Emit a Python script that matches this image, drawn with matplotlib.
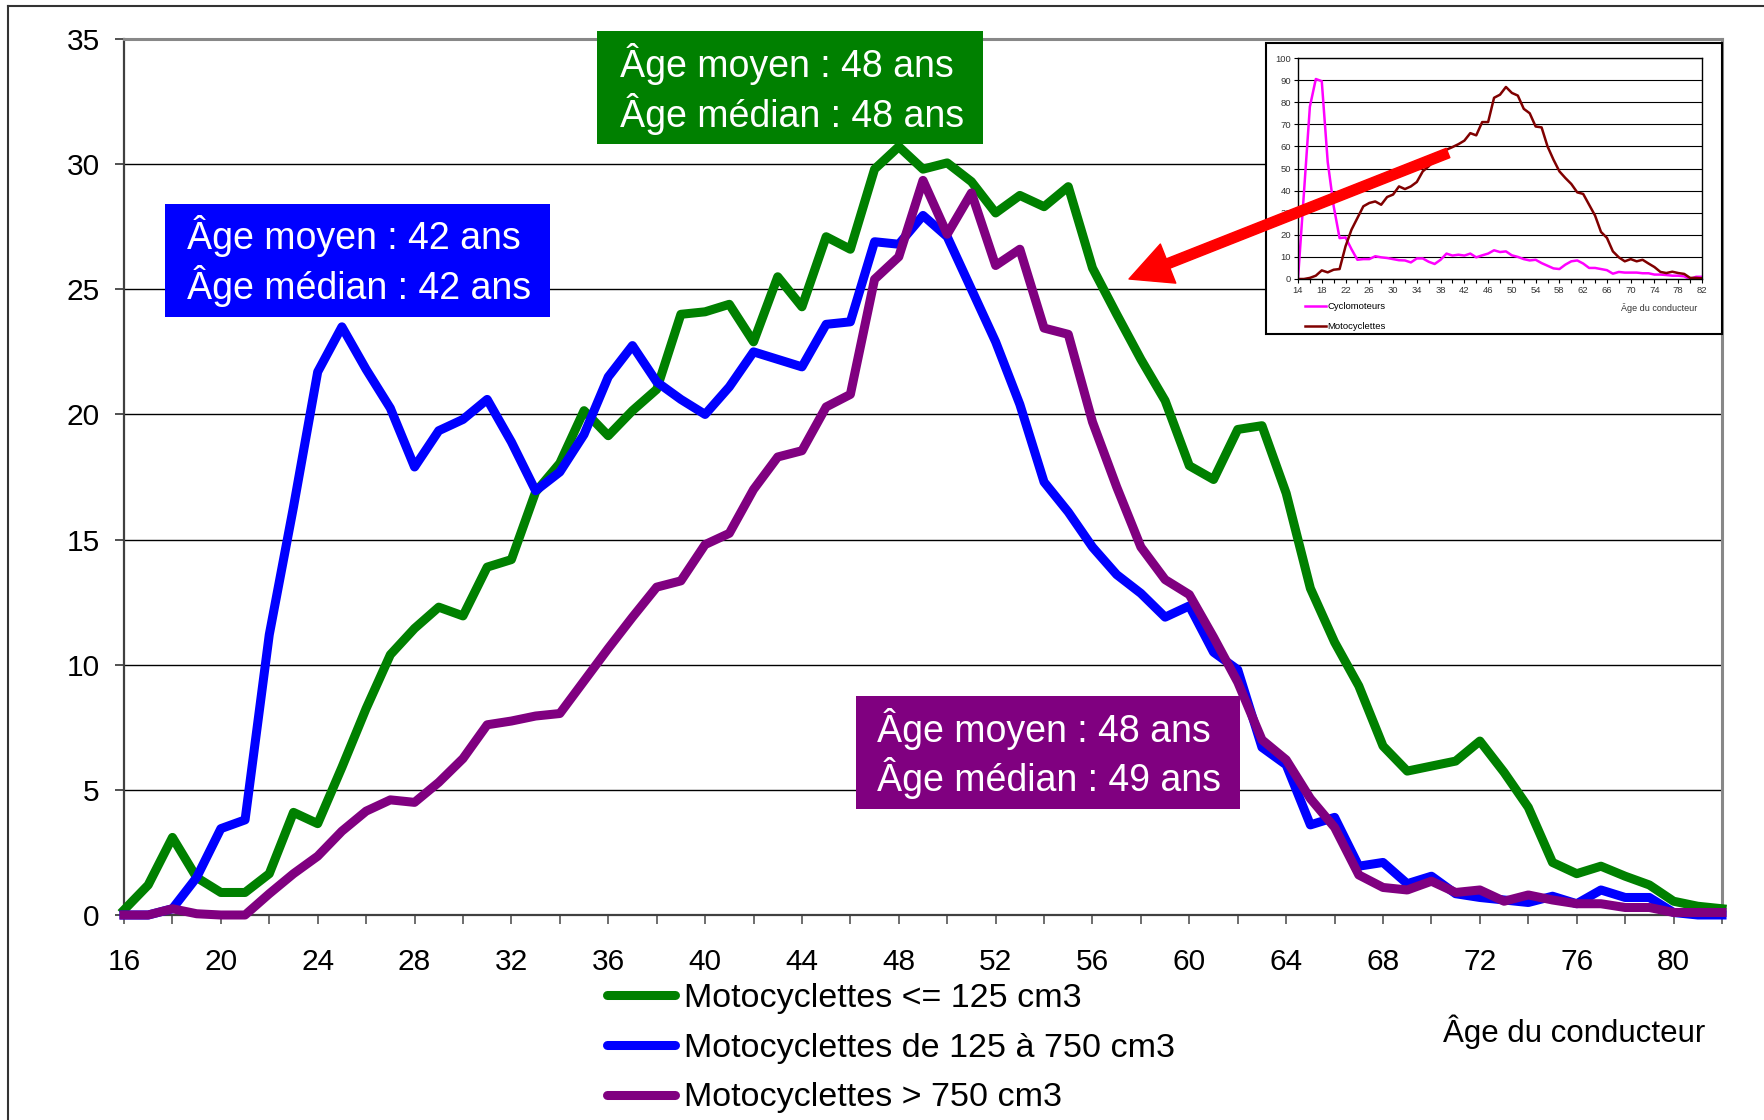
import matplotlib
matplotlib.use("Agg")
import matplotlib.pyplot as plt
from matplotlib.patches import Rectangle, FancyArrowPatch
from matplotlib.lines import Line2D

plt.rcParams['font.family'] = ['Liberation Sans', 'DejaVu Sans']

# main chart: share of drivers by age (16..82)
ages = list(range(16, 83))
moto_125 = [0.2, 1.2, 3.1, 1.5, 0.9, 0.9, 1.65, 4.1, 3.65, 5.9,
            8.25, 10.4, 11.45, 12.3, 11.95, 13.9, 14.2, 16.9, 18.05, 20.15,
            19.15, 20.15, 21.0, 24.0, 24.1, 24.4, 22.9, 25.5, 24.3, 27.1,
            26.6, 29.8, 30.7, 29.8, 30.05, 29.3, 28.05, 28.75, 28.3, 29.1,
            25.85, 24.0, 22.2, 20.55, 17.95, 17.4, 19.4, 19.55, 16.85, 13.05,
            10.9, 9.15, 6.75, 5.75, 5.95, 6.15, 6.95, 5.7, 4.3, 2.1,
            1.65, 1.95, 1.55, 1.2, 0.55, 0.35, 0.25]
moto_125_750 = [0.0, 0.0, 0.25, 1.5, 3.45, 3.8, 11.2, 16.3, 21.7, 23.5,
                21.8, 20.25, 17.9, 19.35, 19.8, 20.6, 18.9, 16.95, 17.7, 19.2,
                21.5, 22.75, 21.3, 20.6, 20.0, 21.1, 22.5, 22.2, 21.9, 23.6,
                23.7, 26.9, 26.8, 27.95, 27.1, 25.0, 22.9, 20.4, 17.3, 16.1,
                14.7, 13.6, 12.85, 11.9, 12.35, 10.5, 9.8, 6.7, 6.0, 3.6,
                3.9, 1.95, 2.1, 1.25, 1.55, 0.85, 0.7, 0.6, 0.5, 0.75,
                0.45, 1.0, 0.7, 0.7, 0.1, 0.0, 0.0]
moto_750 = [0.0, 0.0, 0.25, 0.05, 0.0, 0.0, 0.85, 1.65, 2.35, 3.35,
            4.15, 4.6, 4.5, 5.3, 6.25, 7.6, 7.75, 7.95, 8.05, 9.35,
            10.65, 11.9, 13.1, 13.35, 14.8, 15.25, 17.0, 18.3, 18.55, 20.3,
            20.8, 25.4, 26.3, 29.35, 27.2, 28.85, 25.95, 26.6, 23.45, 23.2,
            19.7, 17.1, 14.7, 13.4, 12.8, 11.1, 9.3, 7.0, 6.2, 4.65,
            3.5, 1.6, 1.1, 1.0, 1.35, 0.9, 1.0, 0.55, 0.8, 0.6,
            0.45, 0.45, 0.3, 0.3, 0.1, 0.1, 0.1]

series = [moto_125, moto_125_750, moto_750]
series_labels = ["Motocyclettes <= 125 cm3",
                 "Motocyclettes de 125 à 750 cm3",
                 "Motocyclettes > 750 cm3"]
series_colors = ["#008000", "#0000ff", "#800080"]

box_texts = [("Âge moyen : 42 ans", "Âge médian : 42 ans"),
             ("Âge moyen : 48 ans", "Âge médian : 48 ans"),
             ("Âge moyen : 48 ans", "Âge médian : 49 ans")]
box_colors = ["#0000ff", "#008000", "#800080"]

# inset chart (14..82)
inset_ages = list(range(14, 83))
cyclo = [0, 39, 78, 90.5, 89.5, 53, 33, 18.5, 18.8, 13.5,
         8.7, 9, 9, 10.3, 9.8, 9.5, 9, 8.5, 8.4, 7.5,
         9.3, 9.3, 7.8, 6.8, 8.7, 11.5, 10.6, 11, 10.6, 11.5,
         9.8, 10.7, 11.5, 13, 12.2, 12.5, 10.7, 10, 9, 8.4,
         8.7, 7.2, 6, 4.8, 4.5, 6.5, 8, 8.4, 7, 5,
         5, 4.5, 4, 2.4, 3.2, 2.9, 2.9, 2.9, 2.6, 2.6,
         2, 2, 1.8, 1.5, 1.5, 1.2, 0, 1, 1]
moto_all = [0, 0, 0.5, 1.5, 3.9, 3.0, 4.2, 4.5, 14.8, 22.3,
            27.6, 32.9, 34.4, 35.1, 33.6, 37.1, 38.2, 41.9, 40.7, 41.9,
            43.9, 48.7, 51, 54, 57, 58.5, 59.7, 61, 62.6, 66,
            65, 71, 71, 82, 83.4, 86.9, 84.2, 83, 77, 75,
            69, 68.6, 60, 54, 48.7, 45.7, 43, 39.2, 38.5, 33.6,
            28.7, 21.3, 18.6, 12.5, 9.8, 8, 9, 8, 8.7, 7,
            5.4, 3.2, 2.7, 3.3, 2.7, 2.3, 0.5, 0.5, 0.3]
inset_labels = ["Cyclomoteurs", "Motocyclettes"]
inset_colors = ["#ff00ff", "#800000"]

W, H = 1764, 1120
fig = plt.figure(figsize=(W / 100, H / 100), dpi=100)


def fx(px):
    return px / W


def fy(py):
    return 1 - py / H


# outer frame (only top and left visible)
fig.add_artist(Line2D([fx(8), fx(8)], [fy(6), 0], transform=fig.transFigure, color="#333333", lw=1.5))
fig.add_artist(Line2D([fx(8), 1], [fy(6), fy(6)], transform=fig.transFigure, color="#333333", lw=1.5))

ax = fig.add_axes([fx(124), fy(915), fx(1722) - fx(124), fy(39) - fy(915)])
for vals, col, lab in zip(series, series_colors, series_labels):
    ax.plot(ages, vals, color=col, lw=6.5, label=lab, clip_on=False, zorder=3)

ax.set_xlim(16, 82)
ax.set_ylim(0, 35)
xt = list(range(16, 83, 2))
ax.set_xticks(xt)
ax.set_xticklabels([str(a) if (a - 16) % 4 == 0 else "" for a in xt])
ax.set_yticks(range(0, 36, 5))
ax.tick_params(axis="x", direction="out", length=6.5, width=1.2, color="#555555", labelsize=21.5, pad=17)
ax.tick_params(axis="y", direction="out", length=6.5, width=1.2, color="#333333", labelsize=21.5, pad=11)
ax.yaxis.grid(True, color="black", lw=1.0)
ax.set_axisbelow(True)
ax.spines["left"].set_color("#404040")
ax.spines["left"].set_linewidth(1.6)
ax.spines["bottom"].set_color("#404040")
ax.spines["bottom"].set_linewidth(1.6)
ax.spines["top"].set_color("#888888")
ax.spines["top"].set_linewidth(2.2)
ax.spines["right"].set_color("#888888")
ax.spines["right"].set_linewidth(2.2)

# coloured stat boxes (pixel layout)
box_layout = [(165, 204, 550, 317, 187, 236, 286),
              (597, 31, 983, 144, 620, 64, 114),
              (856, 696, 1240, 809, 877, 729, 778)]
for (x0, y0, x1, y1, tx, l1, l2), col, txt in zip(box_layout, box_colors, box_texts):
    fig.add_artist(Rectangle((fx(x0), fy(y1)), fx(x1) - fx(x0), fy(y0) - fy(y1),
                             transform=fig.transFigure, facecolor=col, edgecolor="none", zorder=4))
    fig.text(fx(tx), fy(l1), txt[0], color="white", fontsize=27, va="center", ha="left", zorder=5)
    fig.text(fx(tx), fy(l2), txt[1], color="white", fontsize=27, va="center", ha="left", zorder=5)

handles = [Line2D([], [], color=c, lw=6.5, solid_capstyle="round") for c in series_colors]
fig.legend(handles, series_labels, loc="upper left", bbox_to_anchor=(fx(607), fy(983)),
           frameon=False, fontsize=24.5, handlelength=2.0, handletextpad=0.25,
           labelspacing=0.55, borderaxespad=0, borderpad=0)
fig.text(fx(1705), fy(1032), "Âge du conducteur", fontsize=22.5, ha="right", va="center")

# inset picture
fig.add_artist(Rectangle((fx(1266), fy(334)), fx(1722) - fx(1266), fy(43) - fy(334),
                         transform=fig.transFigure, facecolor="white", edgecolor="black", lw=1.5, zorder=6))
ins = fig.add_axes([fx(1298), fy(279), fx(1702) - fx(1298), fy(58) - fy(279)])
ins.set_zorder(7)
ins.plot(inset_ages, cyclo, color=inset_colors[0], lw=1.8)
ins.plot(inset_ages, moto_all, color=inset_colors[1], lw=1.8)
ins.set_xlim(14, 82)
ins.set_ylim(0, 100)
it = list(range(14, 83, 2))
ins.set_xticks(it)
ins.set_xticklabels([str(a) if (a - 14) % 4 == 0 else "" for a in it])
ins.set_yticks(range(0, 101, 10))
ins.tick_params(labelsize=6.8, labelcolor="#333333", length=3, width=0.8, pad=2)
ins.yaxis.grid(True, color="black", lw=0.8)
ins.set_axisbelow(True)
for s in ins.spines.values():
    s.set_linewidth(1.0)
ins_handles = [Line2D([], [], color=c, lw=1.8) for c in inset_colors]
ileg = fig.legend(ins_handles, inset_labels, loc="upper left", bbox_to_anchor=(fx(1305), fy(302)),
                  frameon=False, fontsize=6.8, handlelength=2.2, handletextpad=0.2,
                  labelspacing=1.15, borderaxespad=0, borderpad=0)
ileg.set_zorder(8)
fig.text(fx(1697), fy(308), "Âge du conducteur", fontsize=6.5, ha="right", va="center", color="#333333", zorder=8)

arrow = FancyArrowPatch(posA=(fx(1448), fy(153)), posB=(fx(1129), fy(279)), transform=fig.transFigure,
                        arrowstyle="simple,head_width=4.2,head_length=4.2,tail_width=1.0",
                        mutation_scale=7.2, color="red", shrinkA=0, shrinkB=0, zorder=9)
fig.add_artist(arrow)

fig.savefig("out.png", dpi=100)
